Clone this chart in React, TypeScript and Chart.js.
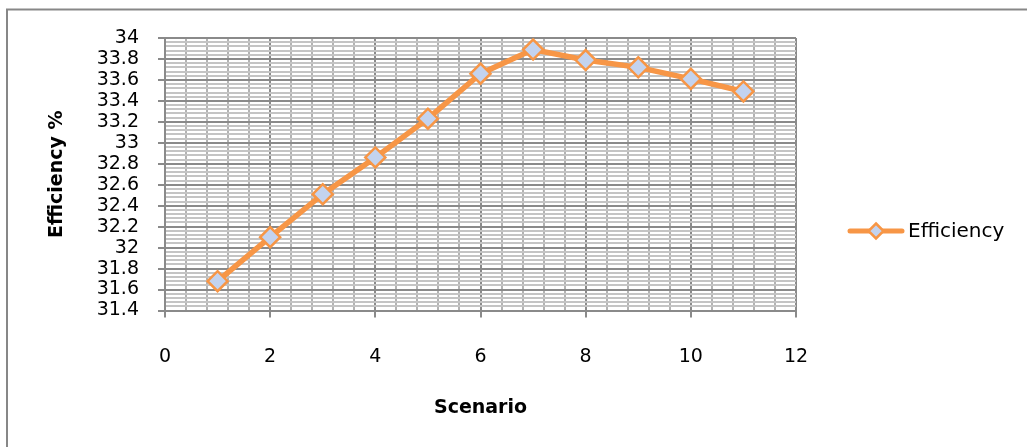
import React, { useEffect, useRef } from "react";
import { Chart, registerables } from "chart.js";

Chart.register(...registerables);

const scenarios = [1, 2, 3, 4, 5, 6, 7, 8, 9, 10, 11];
const efficiency = [31.68, 32.1, 32.51, 32.86, 33.23, 33.66, 33.89, 33.79, 33.72, 33.61, 33.49];
const seriesLabel = "Efficiency";
const xTitle = "Scenario";
const yTitle = "Efficiency %";
const yMin = 31.4;
const yMax = 34;
const yMajorStep = 0.2;
const yMinorStep = 0.04;
const xMin = 0;
const xMax = 12;
const xMajorStep = 2;
const xMinorStep = 0.4;

const FONT = "'DejaVu Sans', sans-serif";
const ORANGE = "#F79646";
const MARKER_FILL = "#c3d3ef";
const MAJOR = "#8a8a8a";
const MINOR_H = "#c4c4c4";
const MINOR_V = "#b3b3b3";

function isMajor(v: number, major: number) {
  const r = v / major;
  return Math.abs(r - Math.round(r)) < 1e-6;
}

function buildTicks(min: number, max: number, step: number) {
  const n = Math.round((max - min) / step);
  const out: { value: number }[] = [];
  for (let i = 0; i <= n; i++) out.push({ value: Math.round((min + i * step) * 1000) / 1000 });
  return out;
}

const framePlugin = {
  id: "frame",
  beforeDraw(chart: any) {
    const ctx = chart.ctx;
    ctx.save();
    ctx.fillStyle = "#ffffff";
    ctx.fillRect(0, 0, chart.width, chart.height);
    ctx.strokeStyle = "#878787";
    ctx.lineWidth = 2;
    ctx.beginPath();
    ctx.moveTo(7, chart.height);
    ctx.lineTo(7, 9.5);
    ctx.lineTo(chart.width, 9.5);
    ctx.stroke();
    ctx.restore();
  },
};

const legendPlugin = {
  id: "customLegend",
  afterDraw(chart: any) {
    const ctx = chart.ctx;
    const ds = chart.data.datasets[0];
    const y = 231;
    ctx.save();
    ctx.strokeStyle = ORANGE;
    ctx.lineWidth = 5;
    ctx.lineCap = "round";
    ctx.beginPath();
    ctx.moveTo(850, y);
    ctx.lineTo(902, y);
    ctx.stroke();
    ctx.fillStyle = MARKER_FILL;
    ctx.lineWidth = 2.5;
    const r = 7.5;
    ctx.beginPath();
    ctx.moveTo(876, y - r);
    ctx.lineTo(876 + r, y);
    ctx.lineTo(876, y + r);
    ctx.lineTo(876 - r, y);
    ctx.closePath();
    ctx.fill();
    ctx.stroke();
    ctx.fillStyle = "#000000";
    ctx.font = `20px ${FONT}`;
    ctx.textBaseline = "middle";
    ctx.textAlign = "left";
    ctx.fillText(ds.label, 908, y + 1);
    ctx.restore();
  },
};

export default function App() {
  const ref = useRef<HTMLCanvasElement | null>(null);

  useEffect(() => {
    if (!ref.current) return;
    const chart = new Chart(ref.current, {
      type: "line",
      data: {
        datasets: [
          {
            label: seriesLabel,
            data: scenarios.map((x, i) => ({ x, y: efficiency[i] })),
            borderColor: ORANGE,
            borderWidth: 5.5,
            tension: 0,
            pointStyle: "rectRot",
            pointRadius: 10,
            pointBorderWidth: 2.5,
            pointBackgroundColor: MARKER_FILL,
            pointBorderColor: ORANGE,
          },
        ],
      },
      options: {
        responsive: false,
        animation: false,
        layout: { padding: { left: 0, right: 231, top: 38, bottom: 0 } },
        plugins: { legend: { display: false }, tooltip: { enabled: false } },
        scales: {
          x: {
            type: "linear",
            min: xMin,
            max: xMax,
            afterBuildTicks: (s: any) => {
              s.ticks = buildTicks(xMin, xMax, xMinorStep);
            },
            afterFit: (s: any) => {
              s.height = 136.5;
            },
            grid: {
              color: (c: any) => (isMajor(c.tick?.value ?? 0, xMajorStep) ? MAJOR : MINOR_V),
              lineWidth: 2,
              tickLength: 7,
              tickColor: (c: any) => (isMajor(c.tick?.value ?? 0, xMajorStep) ? MAJOR : "rgba(0,0,0,0)"),
            },
            border: { color: MAJOR, width: 2 },
            ticks: {
              autoSkip: false,
              maxRotation: 0,
              padding: 28,
              color: "#000000",
              font: { family: FONT, size: 19 },
              callback: (v: any) => (isMajor(Number(v), xMajorStep) ? String(Math.round(Number(v))) : ""),
            },
            title: {
              display: true,
              text: xTitle,
              color: "#000000",
              font: { family: FONT, size: 19, weight: "bold" },
              padding: { top: 0, bottom: 28 },
            },
          },
          y: {
            type: "linear",
            min: yMin,
            max: yMax,
            afterBuildTicks: (s: any) => {
              s.ticks = buildTicks(yMin, yMax, yMinorStep);
            },
            afterFit: (s: any) => {
              s.width = 165;
            },
            grid: {
              color: (c: any) => (isMajor((c.tick?.value ?? 0) - yMin, yMajorStep) ? MAJOR : MINOR_H),
              lineWidth: 2,
              tickLength: 7,
              tickColor: (c: any) => (isMajor((c.tick?.value ?? 0) - yMin, yMajorStep) ? MAJOR : "rgba(0,0,0,0)"),
            },
            border: { color: MAJOR, width: 2 },
            ticks: {
              autoSkip: false,
              padding: 19,
              color: "#000000",
              font: { family: FONT, size: 19 },
              callback: (v: any) =>
                isMajor(Number(v) - yMin, yMajorStep) ? String(Math.round(Number(v) * 10) / 10) : "",
            },
            title: {
              display: true,
              text: yTitle,
              color: "#000000",
              font: { family: FONT, size: 19, weight: "bold" },
              padding: { top: 46, bottom: 0 },
            },
          },
        },
      },
      plugins: [framePlugin, legendPlugin],
    } as any);
    return () => chart.destroy();
  }, []);

  return (
    <div style={{ position: "fixed", left: 0, top: 0, width: 1027, height: 447, background: "#fff" }}>
      <canvas ref={ref} width={1027} height={447} style={{ display: "block" }} />
    </div>
  );
}
